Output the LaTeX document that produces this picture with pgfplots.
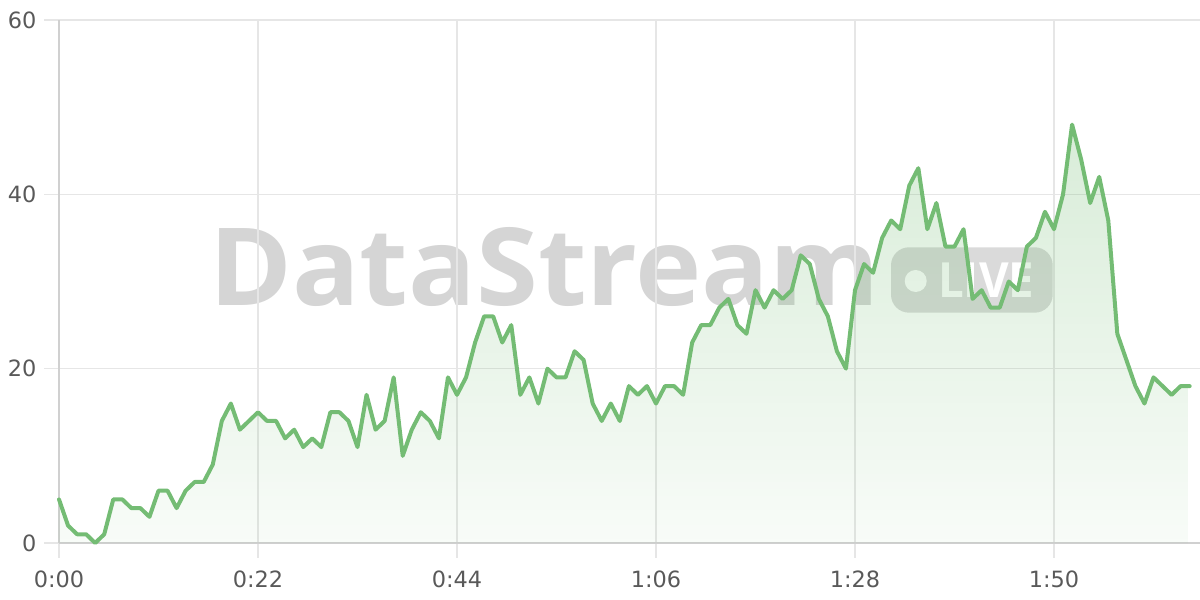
\documentclass[border=0pt]{standalone}
\usepackage{fontspec}
\setmainfont{DejaVu Sans}
\newfontfamily\wmfont{Open Sans}
\usepackage{pgfplots}
\pgfplotsset{compat=1.18}
\usepackage{pgfplotstable}
\usetikzlibrary{fadings}
\definecolor{gridc}{HTML}{E6E6E6}
\definecolor{axisc}{HTML}{D0D0D0}
\definecolor{lineg}{HTML}{74BC74}
\definecolor{tickc}{HTML}{595959}
\definecolor{wmgray}{HTML}{D5D5D5}
\definecolor{badgegray}{HTML}{DADADA}
\tikzfading[name=areafade, top color=transparent!72, bottom color=transparent!95]

\pgfplotstableread{
t v
0 5
1 2
2 1
3 1
4 0
5 1
6 5
7 5
8 4
9 4
10 3
11 6
12 6
13 4
14 6
15 7
16 7
17 9
18 14
19 16
20 13
21 14
22 15
23 14
24 14
25 12
26 13
27 11
28 12
29 11
30 15
31 15
32 14
33 11
34 17
35 13
36 14
37 19
38 10
39 13
40 15
41 14
42 12
43 19
44 17
45 19
46 23
47 26
48 26
49 23
50 25
51 17
52 19
53 16
54 20
55 19
56 19
57 22
58 21
59 16
60 14
61 16
62 14
63 18
64 17
65 18
66 16
67 18
68 18
69 17
70 23
71 25
72 25
73 27
74 28
75 25
76 24
77 29
78 27
79 29
80 28
81 29
82 33
83 32
84 28
85 26
86 22
87 20
88 29
89 32
90 31
91 35
92 37
93 36
94 41
95 43
96 36
97 39
98 34
99 34
100 36
101 28
102 29
103 27
104 27
105 30
106 29
107 34
108 35
109 38
110 36
111 40
112 48
113 44
114 39
115 42
116 37
117 24
118 21
119 18
120 16
121 19
122 18
123 17
124 18
125 18
}\datatable

\begin{document}
\begin{tikzpicture}[x=1bp,y=1bp]
\useasboundingbox (0,0) rectangle (1200,600);
% watermark
\node[anchor=south west, inner sep=0pt, text=wmgray] at (209,293) {\resizebox{670bp}{78bp}{\wmfont\bfseries DataStream}};
\fill[badgegray, rounded corners=18bp] (891,287.3) rectangle (1052.7,352.7);
\fill[white] (915.7,319) circle (11);
\node[anchor=south west, inner sep=0pt, text=white] at (938,302.7) {\resizebox{96bp}{34.6bp}{\wmfont\bfseries LIVE}};
\begin{axis}[
  at={(59bp,57bp)}, anchor=south west,
  scale only axis, width=1141bp, height=523bp,
  xmin=0, xmax=126.14, ymin=0, ymax=60,
  axis x line*=bottom, axis y line*=left,
  x axis line style={draw=axisc, line width=1.5bp},
  y axis line style={draw=axisc, line width=1.5bp},
  xtick={0,22,44,66,88,110},
  xticklabels={0:00,0:22,0:44,1:06,1:28,1:50},
  ytick={0,20,40,60},
  grid=major,
  major grid style={draw=gridc, line width=1.3bp},
  tick align=outside,
  major tick length=15bp,
  tick style={draw=gridc, line width=1.3bp},
  /pgf/number format/assume math mode=true,
  ticklabel style={font=\fontsize{22.5}{27}\selectfont, text=tickc},
  xticklabel style={yshift=-9bp},
  yticklabel style={xshift=-4bp},
  clip=false,
]
\addplot[draw=none, fill=lineg, path fading=areafade] table[x=t,y=v] {\datatable} \closedcycle;
\addplot[draw=lineg, line width=4bp, line join=round, line cap=round] table[x=t,y=v] {\datatable};
\end{axis}
\end{tikzpicture}
\end{document}
